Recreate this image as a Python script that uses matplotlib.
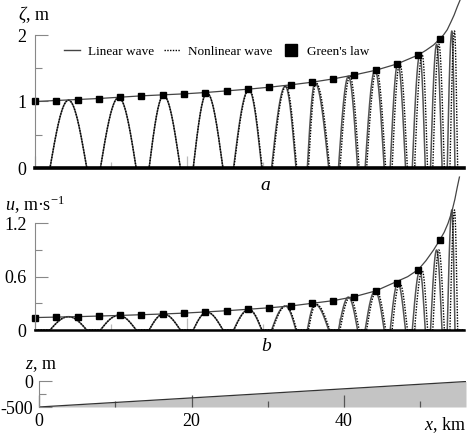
import numpy as np
import matplotlib.pyplot as plt
from matplotlib.lines import Line2D

plt.rcParams['font.family'] = ['Liberation Serif', 'DejaVu Serif']
plt.rcParams['mathtext.fontset'] = 'custom'
plt.rcParams['mathtext.rm'] = 'Liberation Serif'
plt.rcParams['mathtext.it'] = 'Liberation Serif:italic'
plt.rcParams['axes.unicode_minus'] = False

# Green's law points (squares), x in km
green_x = [0, 2.8, 5.6, 8.4, 11.2, 14.0, 16.8, 19.6, 22.4, 25.2,
           28.0, 30.8, 33.6, 36.4, 39.2, 42.0, 44.8, 47.6, 50.4, 53.2]
green_zeta = [1.0, 1.015, 1.03, 1.045, 1.065, 1.085, 1.10, 1.115, 1.135, 1.16,
              1.185, 1.215, 1.25, 1.29, 1.34, 1.40, 1.47, 1.565, 1.70, 1.94]
green_u = [0.14, 0.145, 0.15, 0.157, 0.164, 0.172, 0.18, 0.19, 0.203, 0.217,
           0.233, 0.25, 0.27, 0.30, 0.33, 0.375, 0.44, 0.53, 0.68, 1.01]

# Green's law curve near the shore (runs above the axes)
tail_x_zeta = [51.4, 52.4, 53.2, 53.7, 54.2, 54.7, 55.1, 55.5, 55.9]
tail_zeta = [1.77, 1.85, 1.94, 2.0, 2.08, 2.2, 2.3, 2.42, 2.53]
tail_x_u = [49.0, 50.4, 51.4, 52.4, 53.2, 53.8, 54.3, 54.8, 55.2, 55.5, 55.8]
tail_u = [0.60, 0.68, 0.78, 0.90, 1.01, 1.10, 1.20, 1.33, 1.47, 1.60, 1.72]

# wave humps: start, crest, end (km)
hump_start = [1.97, 8.6, 15.0, 20.8, 26.1, 31.1, 35.8, 39.9, 43.4, 46.7, 49.6, 52.0, 54.2]
hump_crest = [4.4, 11.0, 16.9, 22.6, 28.1, 32.9, 36.8, 41.2, 44.7, 47.7, 50.6, 52.8, 54.8]
hump_end = [6.8, 13.3, 19.1, 24.7, 29.8, 34.3, 38.6, 42.4, 45.9, 48.7, 51.3, 53.5, 55.2]
zeta_crest = [1.02, 1.06, 1.09, 1.13, 1.18, 1.23, 1.28, 1.38, 1.48, 1.58, 1.71, 1.86, 2.06]
u_crest = [0.15, 0.165, 0.18, 0.20, 0.23, 0.27, 0.29, 0.37, 0.44, 0.53, 0.67, 0.90, 1.35]
nl_shift = [0, 0, 0, 0, 0.05, 0.1, 0.15, 0.2, 0.2, 0.25, 0.3, 0.3, 0.35]

# bottom profile
depth_x = [0, 56.0]
depth_z = [-500, -10]

W, H = 467, 436


def wave(amps, shift):
    x = np.linspace(0, 56.4, 4000)
    y = np.zeros_like(x)
    for x0, xc, x1, a, s in zip(hump_start, hump_crest, hump_end, amps, shift):
        up = (x >= x0 + s) & (x <= xc + s)
        dn = (x > xc + s) & (x <= x1 + s)
        y[up] = a * np.sin(np.pi / 2 * (x[up] - x0 - s) / (xc - x0))
        y[dn] = a * np.sin(np.pi / 2 * (x1 + s - x[dn]) / (x1 - xc))
    return x, y


def px_axes(l, r, t, b):
    return fig.add_axes([l / W, 1 - b / H, (r - l) / W, (b - t) / H])


def style(ax, xtick_col='#bbbbbb', ypad=6):
    for s in ['top', 'right']:
        ax.spines[s].set_visible(False)
    ax.spines['left'].set_color('#888888')
    ax.spines['left'].set_linewidth(0.8)
    ax.tick_params(axis='y', which='major', direction='in', length=9, width=0.8,
                   color='#888888', labelsize=13, pad=ypad)
    ax.tick_params(axis='y', which='minor', direction='in', length=5, width=0.8,
                   color='#888888')
    ax.tick_params(axis='x', which='major', direction='in', length=9, width=0.9,
                   color=xtick_col, labelsize=13, pad=4)
    ax.tick_params(axis='x', which='minor', direction='in', length=4.5, width=0.9,
                   color=xtick_col)
    ax.set_xticks([0, 20, 40])
    ax.set_xticks([10, 30, 50], minor=True)


fig = plt.figure(figsize=(W / 100, H / 100), dpi=100)

# panel a
ax1 = px_axes(35, 464, 35, 168)
x, y = wave(zeta_crest, [0] * 13)
ax1.plot(x, y, color='#555555', lw=1.1, clip_on=False)
x, y = wave(zeta_crest, nl_shift)
ax1.plot(x, y, color='black', lw=1.0, ls=(0, (1, 1)), clip_on=False)
ax1.plot(green_x[:-1] + tail_x_zeta, green_zeta[:-1] + tail_zeta, color='#444444',
         lw=0.9, clip_on=False)
ax1.plot(green_x, green_zeta, 's', color='black', ms=4, clip_on=False)
ax1.set_xlim(0, 56.4)
ax1.set_ylim(0, 2)
ax1.set_yticks([0, 1, 2])
ax1.set_yticks([0.5, 1.5], minor=True)
style(ax1)
ax1.tick_params(axis='x', labelbottom=False)
ax1.spines['bottom'].set_color('black')
ax1.spines['bottom'].set_linewidth(2.6)
handles = [Line2D([], [], color='#444444', lw=1.0),
           Line2D([], [], color='black', lw=1.0, ls=(0, (1, 1))),
           Line2D([], [], ls='none', marker='s', color='black', ms=9)]
ax1.legend(handles, ['Linear wave', 'Nonlinear wave', "Green's law"], ncol=3,
           loc='center left', bbox_to_anchor=(29 / 429, 0.874), frameon=False,
           fontsize=9.5, handlelength=1.2, handletextpad=0.6, columnspacing=0.8,
           borderpad=0, borderaxespad=0)

# panel b
ax2 = px_axes(35, 464, 223.3, 330)
x, y = wave(u_crest, [0] * 13)
ax2.plot(x, y, color='#555555', lw=1.1, clip_on=False)
x, y = wave(u_crest, nl_shift)
ax2.plot(x, y, color='black', lw=1.0, ls=(0, (1, 1)), clip_on=False)
ax2.plot(green_x[:-3] + tail_x_u, green_u[:-3] + tail_u, color='#444444', lw=0.9,
         clip_on=False)
ax2.plot(green_x, green_u, 's', color='black', ms=4, clip_on=False)
ax2.set_xlim(0, 56.4)
ax2.set_ylim(0, 1.2)
ax2.set_yticks([0, 0.6, 1.2])
ax2.set_yticklabels(['0', '0.6', '1.2'])
ax2.set_yticks([0.3, 0.9], minor=True)
style(ax2)
ax2.tick_params(axis='x', labelbottom=False)
ax2.spines['bottom'].set_color('black')
ax2.spines['bottom'].set_linewidth(1.8)

# panel c
ax3 = px_axes(39, 466, 381, 407)
ax3.fill_between(depth_x, depth_z, -500, color='#c4c4c4', lw=0)
ax3.plot(depth_x, depth_z, color='#333333', lw=0.9)
ax3.set_xlim(0, 56.0)
ax3.set_ylim(-500, 0)
ax3.set_yticks([-500, 0])
ax3.set_yticks([-250], minor=True)
style(ax3, xtick_col='#555555', ypad=4)
ax3.spines['bottom'].set_visible(False)

# labels
fig.text(18 / W, 1 - 15 / H, r'$\zeta$, m', fontsize=13, va='center', ha='left')
fig.text(5 / W, 1 - 205 / H, r'$u$, m·s$^{-1}$', fontsize=13, va='center', ha='left')
fig.text(25 / W, 1 - 366 / H, r'$z$, m', fontsize=13, va='center', ha='left')
fig.text(466 / W, 1 - 425 / H, r'$x$, km', fontsize=13, va='center', ha='right')
fig.text(265 / W, 1 - 185 / H, 'a', fontsize=14, style='italic', ha='center', va='center')
fig.text(266 / W, 1 - 346 / H, 'b', fontsize=14, style='italic', ha='center', va='center')
fig.text(266 / W, 1 - 441 / H, 'c', fontsize=14, style='italic', ha='center', va='center')

fig.savefig('out.png', dpi=100)
